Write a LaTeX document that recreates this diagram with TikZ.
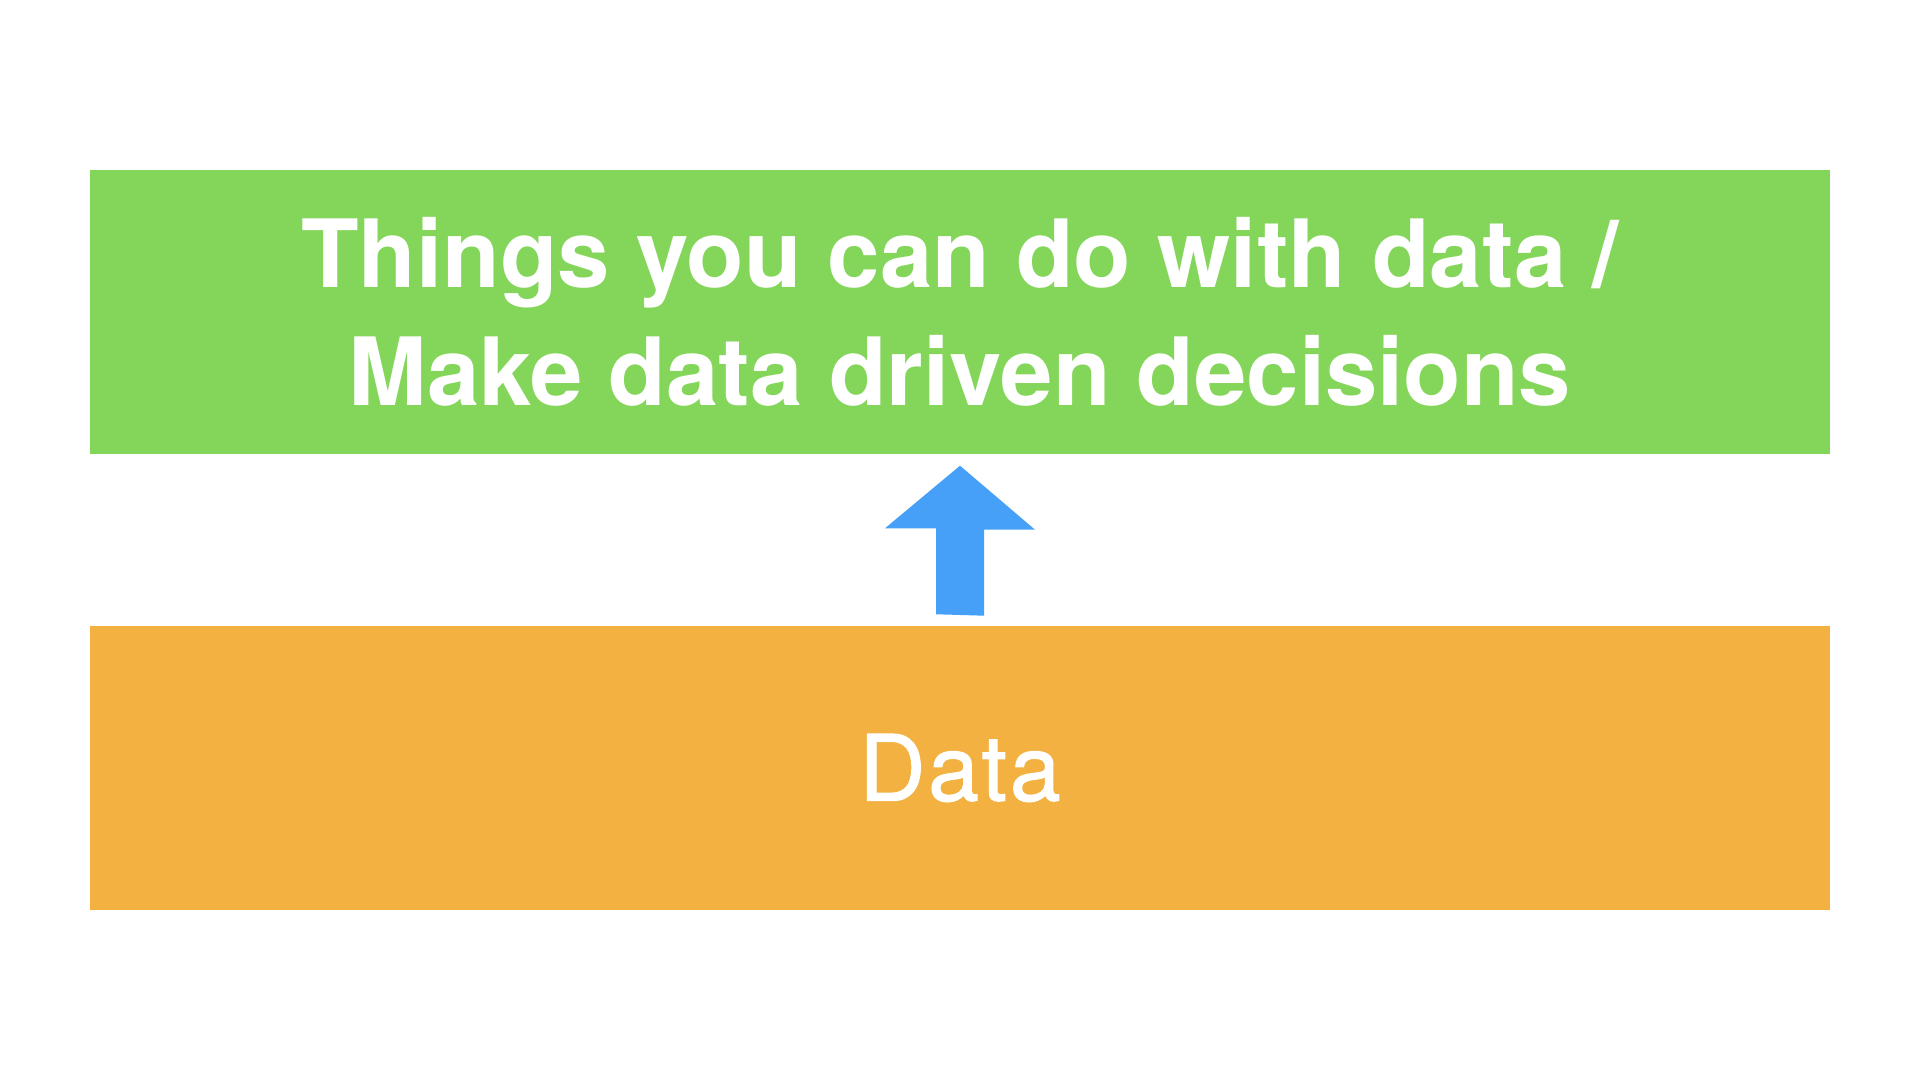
\documentclass[tikz,border=0pt]{standalone}
\usepackage{fontspec}
\setmainfont{TeX Gyre Heros}
\newfontfamily\datafont[FakeBold=1.2,LetterSpace=3]{TeX Gyre Heros}
\usetikzlibrary{calc,positioning}
\definecolor{lime}{RGB}{132,214,90}
\definecolor{sun}{RGB}{242,177,64}
\definecolor{sky}{RGB}{71,160,248}
\tikzset{
  slab/.style={fill=#1,text=white,minimum width=174mm,minimum height=28.4mm,
    inner sep=0pt,align=center},
  slab/.default=lime,
  bigbold/.style={font=\fontsize{26.8}{33.6}\selectfont\bfseries},
  bigplain/.style={font=\datafont\fontsize{26}{31}\selectfont},
  uparrow/.style={fill=sky},
}

\begin{document}
\begin{tikzpicture}
  \fill[white] (0,0) rectangle (19.2,10.8);
  \useasboundingbox (0,0) rectangle (19.2,10.8);
  % the two layers
  \node[slab=lime,bigbold] (things) at (9.6,7.68) {Things you can do with data /\\Make data driven decisions};
  \node[slab=sun,bigplain] (data) at (9.6,3.12) {Data};
  % block arrow between them
  \coordinate (tip) at ($(things.south)+(0,-0.11)$);
  \coordinate (foot) at ($(data.north)+(0,0.11)$);
  \fill[uparrow] (foot) ++(-0.24,0) -- ++(0,0.86) -- ++(-0.51,0) -- (tip)
    -- ++(0.75,-0.64) -- ++(-0.51,0) -- ++(0,-0.86) -- cycle;
\end{tikzpicture}
\end{document}
